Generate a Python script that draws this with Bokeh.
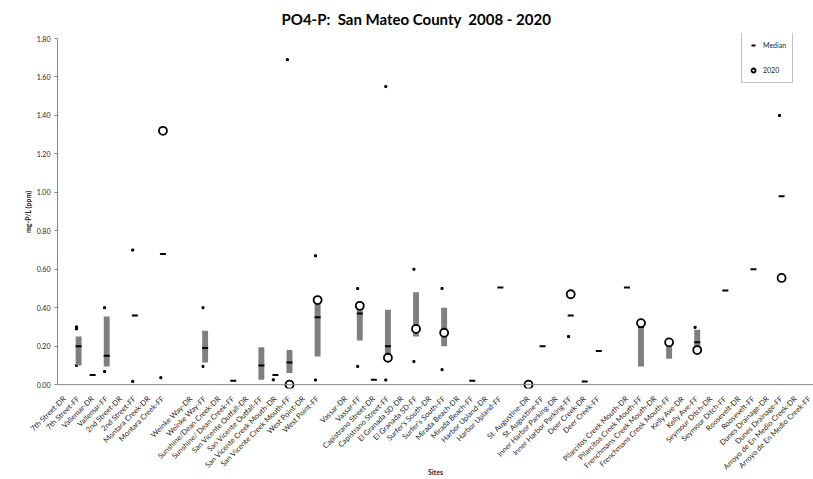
import math
from bokeh.plotting import figure
from bokeh.models import (Range1d, FixedTicker, NumeralTickFormatter, Legend,
                          LegendItem, ColumnDataSource, Span)
from bokeh.embed import file_html
from bokeh.resources import INLINE

N = None
sites = [
    "7th Street-DR", "7th Street-FF", "Vallemar-DR", "Vallemar-FF",
    "2nd Street-DR", "2nd Street-FF", "Montara Creek-DR", "Montara Creek-FF",
    "",
    "Weinke Way-DR", "Weinke Way-FF", "Sunshine/Dean Creek-DR", "Sunshine/ Dean Creek-FF",
    "San Vicente Outfall-DR", "San Vicente Outfall-FF",
    "San Vicente Creek Mouth-DR", "San Vicente Creek Mouth-FF",
    "West Point-DR", "West Point-FF",
    "",
    "Vassar-DR", "Vassar-FF", "Capistrano Street-DR", "Capistrano Street-FF",
    "El Granada SD-DR", "El Granada SD-FF", "Surfer's South-DR", "Surfer's South-FF",
    "Mirada Beach-DR", "Mirada Beach-FF", "Harbor Upland-DR", "Harbor Upland-FF",
    "",
    "St. Augustine-DR", "St. Augustine-FF", "Inner Harbor Parking-DR", "Inner Harbor Parking-FF",
    "Deer Creek-DR", "Deer Creek-FF",
    "",
    "Pilarcitos Creek Mouth-DR", "Pilarcitos Creek Mouth-FF",
    "Frenchmans Creek Mouth-DR", "Frenchmans Creek Mouth-FF",
    "Kelly Ave-DR", "Kelly Ave-FF", "Seymour Ditch-DR", "Seymour Ditch-FF",
    "Roosevelt-DR", "Roosevelt-FF", "Dunes Drainage-DR", "Dunes Drainage-FF",
    "Arroyo de En Medio Creek-DR", "Arroyo de En Medio Creek-FF",
]

# gray range bar (low / high)
bar_low = [N, 0.10, N, 0.095, N, N, N, N, N,
           N, 0.115, N, N, N, 0.025, N, 0.06, N, 0.147, N,
           N, 0.23, N, 0.14, N, 0.25, N, 0.20, N, N, N, N, N,
           N, N, N, N, N, N, N,
           N, 0.095, N, 0.135, N, 0.18, N, N, N, N, N, N, N, N]
bar_high = [N, 0.25, N, 0.355, N, N, N, N, N,
            N, 0.28, N, N, N, 0.195, N, 0.18, N, 0.43, N,
            N, 0.40, N, 0.39, N, 0.48, N, 0.40, N, N, N, N, N,
            N, N, N, N, N, N, N,
            N, 0.31, N, 0.215, N, 0.285, N, N, N, N, N, N, N, N]
median = [N, 0.20, 0.05, 0.15, N, 0.36, N, 0.68, N,
          N, 0.19, N, 0.02, N, 0.10, 0.05, 0.115, N, 0.35, N,
          N, 0.37, 0.025, 0.20, N, 0.29, N, 0.27, N, 0.02, N, 0.505, N,
          N, 0.20, N, 0.36, 0.017, 0.175, N,
          0.505, 0.30, N, 0.21, N, 0.22, N, 0.49, N, 0.60, N, 0.98, N, N]
dot_high = [N, 0.30, N, 0.40, N, 0.70, N, N, N,
            N, 0.40, N, N, N, N, N, 1.69, N, 0.67, N,
            N, 0.50, N, 1.55, N, 0.60, N, 0.50, N, N, N, N, N,
            N, N, N, N, N, N, N,
            N, N, N, N, N, 0.298, N, N, N, N, N, 1.40, N, N]
dot_high2 = [N, 0.29, N, N, N, N, N, N, N,
             N, N, N, N, N, N, N, N, N, N, N,
             N, N, N, N, N, N, N, N, N, N, N, N, N,
             N, N, N, 0.25, N, N, N,
             N, N, N, N, N, N, N, N, N, N, N, N, N, N]
dot_low = [N, 0.10, N, 0.068, N, 0.017, N, 0.036, N,
           N, 0.095, N, N, N, N, 0.025, N, N, 0.024, N,
           N, 0.095, N, 0.024, N, 0.12, N, 0.078, N, N, N, N, N,
           N, N, N, N, N, N, N,
           N, N, N, N, N, N, N, N, N, N, N, N, N, N]
val_2020 = [N, N, N, N, N, N, N, 1.32, N,
            N, N, N, N, N, N, N, 0.0, N, 0.44, N,
            N, 0.41, N, 0.14, N, 0.29, N, 0.27, N, N, N, N, N,
            0.0, N, N, 0.47, N, N, N,
            N, 0.32, N, 0.22, N, 0.18, N, N, N, N, N, 0.555, N, N]

y_ticks = [0.0, 0.2, 0.4, 0.6, 0.8, 1.0, 1.2, 1.4, 1.6, 1.8]


def nan(v):
    return float("nan") if v is None else v


xs = list(range(len(sites)))
src = ColumnDataSource(dict(
    x=xs,
    xd=[i - 0.15 for i in xs],
    lo=[nan(v) for v in bar_low],
    hi=[nan(v) for v in bar_high],
    med=[nan(v) for v in median],
    dh=[nan(v) for v in dot_high],
    dh2=[nan(v) for v in dot_high2],
    dl=[nan(v) for v in dot_low],
    c20=[nan(v) for v in val_2020],
))

FONT = "Lato"
GRAY_AX = "#868686"
TXT = "#262626"

p = figure(width=813, height=479, output_backend="svg", toolbar_location=None,
           x_range=Range1d(-0.5, 53.27), y_range=Range1d(-0.02, 1.826),
           min_border_left=57, min_border_right=0, min_border_top=33,
           min_border_bottom=91)
p.outline_line_color = None
p.xgrid.grid_line_color = None
p.ygrid.grid_line_color = None
p.background_fill_color = "white"
p.border_fill_color = "white"

# title
p.title.text = "PO4-P:\u00a0 San Mateo County\u00a0 2008 - 2020"
p.title.text_font = FONT
p.title.text_font_size = "15px"
p.title.text_font_style = "bold"
p.title.text_color = "black"
p.title.align = "left"
p.title.offset = 224
p.title.standoff = 12

# baseline at 0
p.add_layout(Span(location=0, dimension="width", line_color=GRAY_AX,
                  line_width=1))

# dots (min / max)
p.scatter("xd", "dh", source=src, marker="square", size=2, color="black")
p.scatter("xd", "dh2", source=src, marker="square", size=2, color="black")
p.scatter("xd", "dl", source=src, marker="square", size=2, color="black")

# gray bars
p.vbar(x="x", bottom="lo", top="hi", width=0.42, source=src,
       fill_color="#7f7f7f", line_color=None)

# medians
med_r = p.scatter("x", "med", source=src, marker="dash", size=6,
                  line_width=2, line_color="black")

# 2020 values
c_r = p.scatter("x", "c20", source=src, marker="circle", size=8,
                fill_color="white", line_color="black", line_width=1.8)

# axes
xa = p.xaxis[0]
xa.ticker = FixedTicker(ticks=[i for i, s in enumerate(sites) if s])
xa.major_label_overrides = {i: s for i, s in enumerate(sites) if s}
xa.major_label_orientation = math.pi / 4
xa.major_label_text_font = FONT
xa.major_label_text_font_size = "7.5px"
xa.major_label_text_color = TXT
xa.major_tick_line_color = None
xa.minor_tick_line_color = None
xa.axis_line_color = None
xa.major_label_standoff = 3
xa.axis_label = "Sites"
xa.axis_label_text_font = FONT
xa.axis_label_text_font_size = "7px"
xa.axis_label_text_font_style = "bold"
xa.axis_label_text_color = TXT
xa.axis_label_standoff = -10

ya = p.yaxis[0]
ya.ticker = FixedTicker(ticks=y_ticks)
ya.formatter = NumeralTickFormatter(format="0.00")
ya.bounds = (0, 1.8)
ya.major_label_text_font = FONT
ya.major_label_text_font_size = "7px"
ya.major_label_text_color = TXT
ya.major_tick_out = 3
ya.major_tick_in = 0
ya.major_tick_line_color = GRAY_AX
ya.minor_tick_line_color = None
ya.axis_line_color = GRAY_AX
ya.major_label_standoff = 4
ya.axis_label = "mg-P/L  (ppm)"
ya.axis_label_text_font = FONT
ya.axis_label_text_font_size = "7px"
ya.axis_label_text_font_style = "bold"
ya.axis_label_text_color = TXT
ya.axis_label_standoff = 2

legend = Legend(items=[LegendItem(label="Median", renderers=[med_r]),
                       LegendItem(label="2020", renderers=[c_r])],
                location=(684, 305))
legend.label_text_font = FONT
legend.label_text_font_size = "7px"
legend.label_text_color = TXT
legend.glyph_width = 10
legend.glyph_height = 12
legend.label_height = 12
legend.spacing = 13
legend.padding = 6
legend.margin = 0
legend.label_standoff = 5
legend.border_line_color = GRAY_AX
legend.border_line_width = 1
legend.background_fill_color = "white"
legend.background_fill_alpha = 1
p.add_layout(legend)

open("out.html", "w").write(file_html(p, INLINE))
